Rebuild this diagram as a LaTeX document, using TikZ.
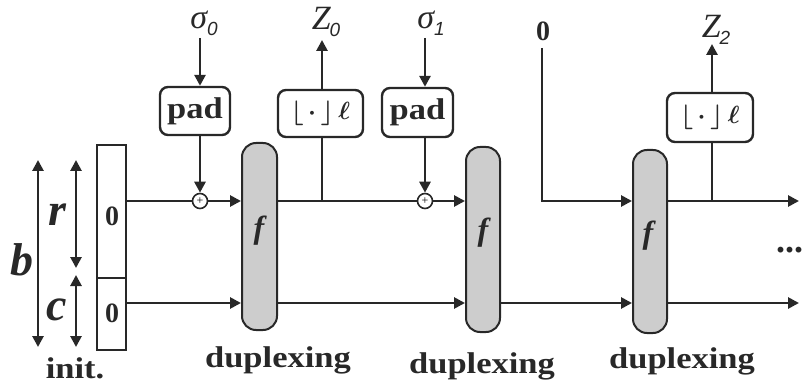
\documentclass[tikz,border=0pt]{standalone}
\usepackage{fontspec}
\setmainfont{Liberation Serif}
\newfontfamily\subf{Liberation Sans}
\newfontfamily\widef[FakeStretch=1.15]{Liberation Serif}
\usetikzlibrary{arrows.meta}
\definecolor{ink}{RGB}{40,40,40}
\definecolor{fgray}{RGB}{205,205,205}
\newcommand{\subz}[1]{\raisebox{-7pt}{\subf\fontsize{19}{19}\selectfont #1}}
\begin{document}
\begin{tikzpicture}[x=1pt,y=-1pt,
  wire/.style={draw=ink, line width=2.8pt},
  arr/.style={wire,-{Triangle[length=11pt,width=11pt]}},
  darr/.style={wire,{Triangle[length=11pt,width=11pt]}-{Triangle[length=11pt,width=11pt]}},
  fblock/.style={draw=ink, fill=fgray, line width=2pt, rounded corners=14pt, minimum width=35pt, inner sep=0pt},
  opbox/.style={draw=ink, line width=2.4pt, rounded corners=8pt, inner sep=0pt},
  reg/.style={draw=ink, line width=2.4pt, minimum width=29pt, inner sep=0pt},
  xor/.style={draw=ink, circle, line width=1.6pt, minimum size=15pt, inner sep=0pt, fill=white, font=\fontsize{12}{12}\selectfont},
  lbl/.style={text=ink, inner sep=0pt},
  widelbl/.style={lbl, font=\fontsize{30}{30}\selectfont\widef\bfseries},
  zero/.style={lbl, font=\fontsize{28}{28}\selectfont\bfseries},
  ital/.style={lbl, font=\fontsize{46}{46}\selectfont\bfseries\itshape},
  flab/.style={lbl, font=\fontsize{32}{32}\selectfont\bfseries\itshape},
  greek/.style={lbl, font=\fontsize{34}{34}\selectfont\itshape},
  trunc/.style={lbl, font=\fontsize{34}{34}\selectfont\boldmath}
]
\useasboundingbox (0,0) rectangle (804,385);

% register
\node[reg, minimum height=133pt] (reg1) at (111.5,211.5) {};
\node[reg, minimum height=72pt] (reg2) at (111.5,314) {};
\node[zero] (z1) at (112,216) {0};
\node[zero] (z2) at (112,313) {0};

% dimension arrows
\coordinate (btop) at (38,160);
\coordinate (bbot) at (38,347);
\coordinate (rtop) at (76,160);
\coordinate (rbot) at (76,268);
\coordinate (ctop) at (76,275);
\coordinate (cbot) at (76,347);
\draw[darr] (btop) -- (bbot);
\draw[darr] (rtop) -- (rbot);
\draw[darr] (ctop) -- (cbot);
\node[ital] (lb) at (22,260) {b};
\node[ital] (lr) at (57,215) {r};
\node[ital] (lc) at (57,310) {c};
\node[widelbl] (init) at (75,368) {init.};

% f blocks
\node[fblock, minimum height=187pt] (f1) at (259.5,236.5) {};
\node[fblock, minimum height=185pt, minimum width=34pt] (f2) at (483,239.5) {};
\node[fblock, minimum height=183pt, minimum width=34pt] (f3) at (650,241.5) {};
\node[flab] (fl1) at (259,231) {f};
\node[flab] (fl2) at (483,233) {f};
\node[flab] (fl3) at (648,236) {f};

% pad boxes and xors
\node[opbox, minimum width=70pt, minimum height=48pt, widelbl] (pad1) at (195,111) {pad};
\node[opbox, minimum width=71pt, minimum height=49pt, widelbl] (pad2) at (417.5,112.5) {pad};
\node[xor] (xor1) at (200,201) {+};
\node[xor] (xor2) at (425,201) {+};

% truncation boxes
\node[opbox, minimum width=85pt, minimum height=47pt, trunc] (tr1) at (320.5,113.5) {$\lfloor\,\cdot\,\rfloor\,\ell$};
\node[opbox, minimum width=86pt, minimum height=49pt, trunc] (tr3) at (710,117.5) {$\lfloor\,\cdot\,\rfloor\,\ell$};

% top labels
\node[greek] (s0) at (204,23) {σ\subz{0}};
\node[greek] (s1) at (431,23) {σ\subz{1}};
\node[greek] (zz0) at (326,22) {Z\kern-1pt\subz{0}};
\node[greek] (zz2) at (716,30) {Z\kern-1pt\subz{2}};
\node[zero] (zin) at (543,31) {0};

\coordinate (s0a) at (200,38);
\coordinate (s1a) at (425,38);
\coordinate (z0a) at (322,40);
\coordinate (z2a) at (712,44);
\coordinate (zs) at (542,48);
\coordinate (yt) at (0,201);
\coordinate (yb) at (0,303);
\coordinate (c3) at (542,201);
\coordinate (o3) at (799,201);
\coordinate (ob) at (799,303);

% pad inputs
\draw[arr] (s0a) -- (s0a |- pad1.north);
\draw[arr] (pad1.south -| xor1) -- (xor1.north);
\draw[arr] (s1a) -- (s1a |- pad2.north);
\draw[arr] (pad2.south -| xor2) -- (xor2.north);

% top wires
\draw[wire] (reg1.east |- yt) -- (xor1.west);
\draw[arr] (xor1.east) -- (f1.west |- yt);
\draw[wire] (f1.east |- yt) -- (xor2.west);
\draw[arr] (xor2.east) -- (f2.west |- yt);
\draw[wire] (z0a |- yt) -- (z0a |- tr1.south);
\draw[arr] (z0a |- tr1.north) -- (z0a);
\draw[arr] (zs) -- (c3) -- (f3.west |- c3);
\draw[arr] (f3.east |- c3) -- (o3);
\draw[wire] (z2a |- c3) -- (z2a |- tr3.south);
\draw[arr] (z2a |- tr3.north) -- (z2a);

% bottom wires
\draw[arr] (reg2.east |- yb) -- (f1.west |- yb);
\draw[arr] (f1.east |- yb) -- (f2.west |- yb);
\draw[arr] (f2.east |- yb) -- (f3.west |- yb);
\draw[arr] (f3.east |- yb) -- (ob);

% dots and captions
\node[lbl, anchor=west, font=\fontsize{36}{36}\selectfont\bfseries] (dots) at (776,250) {...};
\node[widelbl] (d1) at (278,360) {duplexing};
\node[widelbl] (d2) at (482,366) {duplexing};
\node[widelbl] (d3) at (682,361) {duplexing};
\end{tikzpicture}
\end{document}
